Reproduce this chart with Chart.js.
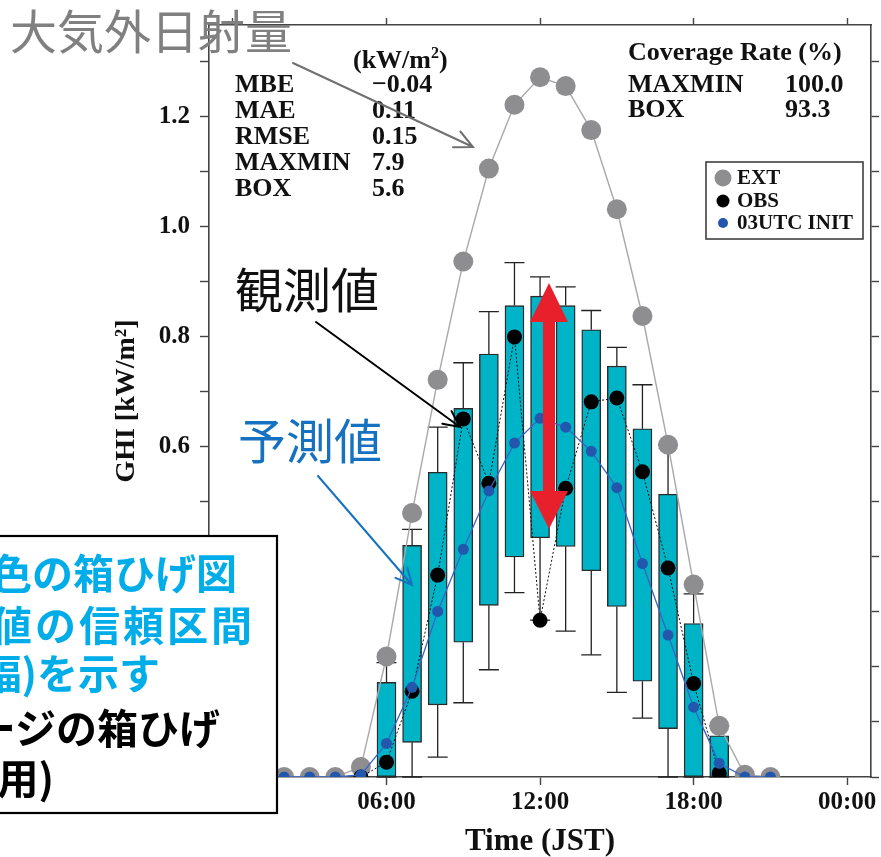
<!DOCTYPE html>
<html>
<head>
<meta charset="utf-8">
<script src="https://cdn.jsdelivr.net/npm/chart.js@4.4.1/dist/chart.umd.min.js"></script>
<style>
  html, body { margin: 0; padding: 0; background: #ffffff; }
  #wrap { width: 881px; height: 857px; position: relative; }
</style>
</head>
<body>
<div id="wrap"><canvas id="ghi" width="881" height="857"></canvas></div>
<script>
// Hourly series (JST hour of day)
const hours = [1, 2, 3, 4, 5, 6, 7, 8, 9, 10, 11, 12, 13, 14, 15, 16, 17, 18, 19, 20, 21];
// Extraterrestrial irradiance (kW/m2)
const extValues = [0, 0, 0, 0, 0.018, 0.219, 0.480, 0.722, 0.937, 1.106, 1.222, 1.272, 1.256, 1.176, 1.032, 0.838, 0.604, 0.350, 0.093, 0.004, 0];
// Observed GHI (kW/m2); null where no observation is plotted
const obsValues = [null, null, null, null, 0, 0.027, 0.156, 0.367, 0.651, 0.534, 0.800, 0.285, 0.525, 0.682, 0.689, 0.555, 0.380, 0.170, 0.007, null, null];
// 03UTC-initialised forecast (kW/m2)
const initValues = [0, 0, 0, 0, 0.004, 0.061, 0.163, 0.301, 0.414, 0.520, 0.607, 0.652, 0.636, 0.592, 0.526, 0.388, 0.258, 0.127, 0.025, 0, 0];

// Ensemble box plot per hour
const boxHours    = [6, 7, 8, 9, 10, 11, 12, 13, 14, 15, 16, 17, 18, 19];
const boxLow      = [0, 0.063, 0.131, 0.245, 0.312, 0.400, 0.435, 0.419, 0.375, 0.310, 0.174, 0.088, 0, 0];
const boxHigh     = [0.172, 0.421, 0.554, 0.670, 0.769, 0.857, 0.874, 0.857, 0.813, 0.747, 0.633, 0.514, 0.279, 0.075];
const whiskerLow  = [0, 0, 0.036, 0.135, 0.195, 0.335, 0.285, 0.265, 0.222, 0.154, 0.107, 0, 0, 0];
const whiskerHigh = [0.208, 0.450, 0.636, 0.753, 0.846, 0.935, 0.909, 0.891, 0.848, 0.781, 0.713, 0.604, 0.333, 0.093];

// Axis ticks
const xTickHours = [0, 6, 12, 18, 24];
const xTickLabels = ['00:00', '06:00', '12:00', '18:00', '00:00'];

// Error statistics and coverage rates
const statNames = ['MBE', 'MAE', 'RMSE', 'MAXMIN', 'BOX'];
const statValues = ['\u22120.04', '0.11', '0.15', '7.9', '5.6'];
const coverageNames = ['MAXMIN', 'BOX'];
const coverageValues = ['100.0', '93.3'];

const SERIF = "'Liberation Serif', 'Times New Roman', serif";
const JP = "'Noto Sans CJK JP', 'Noto Sans', sans-serif";

const pairs = (xs, ys) => xs.map((x, i) => ({ x: x, y: ys[i] }));

// Whiskers: vertical lines and caps behind the boxes
const whiskerPlugin = {
  id: 'whiskers',
  beforeDatasetsDraw(chart) {
    const { ctx, scales: { x, y } } = chart;
    ctx.save();
    ctx.strokeStyle = '#222';
    ctx.lineWidth = 1.3;
    const half = 10;
    boxHours.forEach((h, i) => {
      const px = x.getPixelForValue(h);
      const yTop = y.getPixelForValue(whiskerHigh[i]);
      const yBot = y.getPixelForValue(whiskerLow[i]);
      const bTop = y.getPixelForValue(boxHigh[i]);
      const bBot = y.getPixelForValue(boxLow[i]);
      ctx.beginPath();
      ctx.moveTo(px, yTop); ctx.lineTo(px, bTop);
      ctx.moveTo(px, bBot); ctx.lineTo(px, yBot);
      ctx.moveTo(px - half, yTop); ctx.lineTo(px + half, yTop);
      ctx.moveTo(px - half, yBot); ctx.lineTo(px + half, yBot);
      ctx.stroke();
    });
    ctx.restore();
  }
};

function openArrow(ctx, x1, y1, x2, y2, color, width, head) {
  const a = Math.atan2(y2 - y1, x2 - x1);
  ctx.save();
  ctx.strokeStyle = color;
  ctx.lineWidth = width;
  ctx.lineCap = 'round';
  ctx.beginPath();
  ctx.moveTo(x1, y1); ctx.lineTo(x2, y2);
  ctx.moveTo(x2 - head * Math.cos(a - 0.45), y2 - head * Math.sin(a - 0.45));
  ctx.lineTo(x2, y2);
  ctx.lineTo(x2 - head * Math.cos(a + 0.45), y2 - head * Math.sin(a + 0.45));
  ctx.stroke();
  ctx.restore();
}

// Statistics text, legend and explanatory notes on top of the plot
const overlayPlugin = {
  id: 'overlay',
  afterDraw(chart) {
    const ctx = chart.ctx;
    ctx.save();

    // statistics block
    ctx.fillStyle = '#111';
    ctx.textBaseline = 'middle';
    ctx.textAlign = 'left';
    ctx.font = `bold 26px ${SERIF}`;
    ctx.fillText('(kW/m', 353, 61);
    const w = ctx.measureText('(kW/m').width;
    ctx.font = `bold 16px ${SERIF}`;
    ctx.fillText('2', 353 + w, 54);
    const w2 = ctx.measureText('2').width;
    ctx.font = `bold 26px ${SERIF}`;
    ctx.fillText(')', 353 + w + w2, 61);
    statNames.forEach((n, i) => {
      ctx.fillText(n, 235, 85 + i * 26);
      ctx.fillText(statValues[i], 372, 85 + i * 26);
    });
    ctx.fillText('Coverage Rate (%)', 628, 53);
    coverageNames.forEach((n, i) => {
      ctx.fillText(n, 628, 85 + i * 25.5);
      ctx.fillText(coverageValues[i], 785, 85 + i * 25.5);
    });

    // legend
    ctx.fillStyle = '#fff';
    ctx.fillRect(706, 162, 157, 77);
    ctx.strokeStyle = '#333';
    ctx.lineWidth = 1.5;
    ctx.strokeRect(706, 162, 157, 77);
    const legendRows = [
      { ds: 0, r: 8.5, y: 178 },
      { ds: 1, r: 6.5, y: 201 },
      { ds: 2, r: 5, y: 223 }
    ];
    ctx.font = `bold 21px ${SERIF}`;
    legendRows.forEach(row => {
      const ds = chart.data.datasets[row.ds];
      ctx.fillStyle = ds.pointBackgroundColor;
      ctx.beginPath();
      ctx.arc(723, row.y, row.r, 0, Math.PI * 2);
      ctx.fill();
      ctx.fillStyle = '#111';
      ctx.fillText(ds.label, 737, row.y + 1);
    });

    // explanatory labels and arrows
    ctx.font = `47px ${JP}`;
    ctx.fillStyle = '#808080';
    ctx.fillText('大気外日射量', 10, 31);
    openArrow(ctx, 293, 63, 473, 147, '#707070', 2, 20);

    ctx.font = `48px ${JP}`;
    ctx.fillStyle = '#111';
    ctx.fillText('観測値', 235, 290);
    openArrow(ctx, 316, 322, 460, 427, '#000', 2, 18);

    ctx.fillStyle = '#1672c0';
    ctx.fillText('予測値', 238, 441);
    openArrow(ctx, 318, 476, 412, 585, '#1672c0', 2, 18);

    // red double arrow spanning the noon box
    ctx.fillStyle = '#e8202c';
    ctx.beginPath();
    ctx.moveTo(549, 283);
    ctx.lineTo(568, 322);
    ctx.lineTo(555, 322);
    ctx.lineTo(555, 491);
    ctx.lineTo(568, 491);
    ctx.lineTo(549, 529);
    ctx.lineTo(530, 491);
    ctx.lineTo(543, 491);
    ctx.lineTo(543, 322);
    ctx.lineTo(530, 322);
    ctx.closePath();
    ctx.fill();

    // note box
    ctx.fillStyle = '#fff';
    ctx.fillRect(-5, 536, 282, 277);
    ctx.strokeStyle = '#000';
    ctx.lineWidth = 2.2;
    ctx.strokeRect(-5, 536, 282, 277);
    ctx.font = `bold 41px ${JP}`;
    ctx.textAlign = 'right';
    ctx.fillStyle = '#00ade9';
    ctx.fillText('色の箱ひげ図', 237, 573);
    ctx.letterSpacing = '3px';
    ctx.fillText('値の信頼区間', 255, 625);
    ctx.letterSpacing = '0px';
    ctx.fillText('幅)を示す', 160, 673);
    ctx.fillStyle = '#000';
    ctx.fillText('ージの箱ひげ', 220, 728);
    ctx.fillText('用)', 54, 778);

    ctx.restore();
  }
};

const tickFont = { family: SERIF, weight: 'bold', size: 25 };
const frameGrid = { display: true, drawOnChartArea: false, drawTicks: true, tickLength: 8, tickWidth: 1.4, tickColor: '#444' };
const frameBorder = { display: true, color: '#444', width: 1.6 };

new Chart(document.getElementById('ghi'), {
  type: 'bar',
  data: {
    datasets: [
      {
        type: 'line', label: 'EXT', data: pairs(hours, extValues),
        borderColor: '#a8a8a8', borderWidth: 1.4,
        pointRadius: 10, pointBackgroundColor: '#8e8e91', pointBorderWidth: 0,
        clip: 0, order: 3
      },
      {
        type: 'line', label: 'OBS', data: pairs(hours, obsValues),
        borderColor: '#111', borderWidth: 1, borderDash: [2, 2],
        pointRadius: 7.5, pointBackgroundColor: '#000', pointBorderWidth: 0,
        spanGaps: false, clip: 0, order: 2
      },
      {
        type: 'line', label: '03UTC INIT', data: pairs(hours, initValues),
        borderColor: '#3d62c4', borderWidth: 1.3,
        pointRadius: 5.5, pointBackgroundColor: '#2356ad', pointBorderWidth: 0,
        clip: 0, order: 1
      },
      {
        type: 'bar', label: 'ENS', data: boxHours.map((h, i) => ({ x: h, y: [boxLow[i], boxHigh[i]] })),
        backgroundColor: '#00b4c8', borderColor: '#2a2a2a', borderWidth: 1.4,
        borderSkipped: false, barThickness: 19, order: 4
      }
    ]
  },
  options: {
    responsive: false,
    animation: false,
    devicePixelRatio: 1,
    layout: { padding: 0 },
    plugins: { legend: { display: false }, tooltip: { enabled: false }, title: { display: false } },
    scales: {
      x: {
        type: 'linear', axis: 'x', position: 'bottom', min: -0.935, max: 24.93, offset: false,
        afterFit: s => { s.height = 80; },
        afterBuildTicks: s => { s.ticks = xTickHours.map(v => ({ value: v })); },
        ticks: {
          autoSkip: false, maxRotation: 0, font: tickFont, color: '#111', padding: 3,
          callback: v => xTickLabels[xTickHours.indexOf(v)]
        },
        grid: Object.assign({}, frameGrid, { offset: false }), border: frameBorder,
        title: { display: true, text: 'Time (JST)', color: '#111',
                 font: { family: SERIF, weight: 'bold', size: 31, lineHeight: 1 }, padding: { top: 0, bottom: 0 } }
      },
      xTop: {
        type: 'linear', axis: 'x', position: 'top', min: -0.935, max: 24.93, offset: false,
        afterFit: s => { s.height = 14; },
        afterBuildTicks: s => { s.ticks = xTickHours.map(v => ({ value: v })); },
        ticks: { display: false },
        grid: Object.assign({}, frameGrid, { tickLength: 7, offset: false }), border: frameBorder
      },
      y: {
        type: 'linear', position: 'left', min: 0, max: 1.367,
        afterFit: s => { s.width = 209; },
        ticks: {
          stepSize: 0.1, includeBounds: false, autoSkip: false, font: tickFont, color: '#111', padding: 10,
          callback: v => (Math.round(v * 10) % 2 === 0 ? v.toFixed(1) : '')
        },
        grid: Object.assign({}, frameGrid, { tickLength: 9 }), border: frameBorder,
        title: { display: true, text: 'GHI [kW/m²]', color: '#111',
                 font: { family: SERIF, weight: 'bold', size: 28, lineHeight: 1 }, padding: { top: 113 } }
      },
      yRight: {
        type: 'linear', axis: 'y', position: 'right', min: 0, max: 1.367,
        afterFit: s => { s.width = 8; },
        ticks: { display: false, stepSize: 0.1, includeBounds: false },
        grid: frameGrid, border: frameBorder
      }
    }
  },
  plugins: [whiskerPlugin, overlayPlugin]
});
</script>
</body>
</html>
